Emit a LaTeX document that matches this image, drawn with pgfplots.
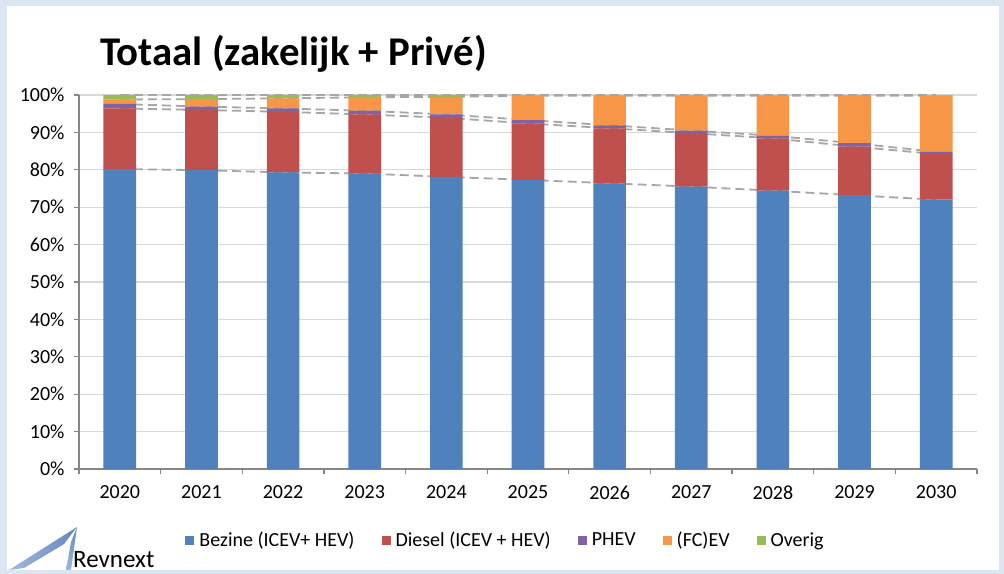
\documentclass[border=0pt]{standalone}
\usepackage{pgfplots}
\usepackage{pgfplotstable}
\pgfplotsset{compat=1.18}
\usepackage{fontspec}
\setmainfont{Carlito}
\definecolor{cBlue}{HTML}{4F81BD}
\definecolor{cRed}{HTML}{C0504D}
\definecolor{cPurple}{HTML}{8064A2}
\definecolor{cOrange}{HTML}{F79646}
\definecolor{cGreen}{HTML}{9BBB59}
\definecolor{frameblue}{RGB}{220,230,242}
\definecolor{axgray}{HTML}{868686}
\definecolor{gridgray}{HTML}{D9D9D9}
\definecolor{serline}{HTML}{A6A6A6}
\definecolor{logoblue}{RGB}{100,135,190}
\definecolor{logolight}{RGB}{160,185,220}

\pgfplotstableread{
x B D P E O
0 80.2 16.2 1.2 1.2 1.2
1 79.9 16.1 0.9 2.0 1.1
2 79.3 16.2 0.9 2.7 0.9
3 79.0 15.8 1.0 3.6 0.6
4 78.1 15.8 0.9 4.7 0.5
5 77.3 15.1 0.9 6.5 0.2
6 76.4 14.7 0.8 7.9 0.2
7 75.5 14.3 0.7 9.3 0.2
8 74.4 14.0 0.7 10.7 0.2
9 73.2 13.0 0.9 12.7 0.2
10 72.0 12.2 0.6 15.0 0.2
}\data

\begin{document}
\begin{tikzpicture}
% background frame
\fill[frameblue] (0bp,0bp) rectangle (1004bp,574bp);
\fill[white] (7bp,4bp) rectangle (999bp,568bp);
% title
\node[anchor=base west, font=\fontsize{40.8bp}{44bp}\selectfont\bfseries, inner sep=0pt] at (100bp,508bp) {Totaal (zakelijk + Privé)};
% logo
\shade[left color=logolight, right color=logoblue] (9bp,4bp) -- (77bp,47bp) -- (64bp,30bp) -- (24bp,6bp) -- cycle;
\shade[top color=logoblue, bottom color=logolight] (77bp,47bp) -- (71bp,4bp) -- (66bp,4bp) -- (71bp,32bp) -- cycle;
\node[anchor=base west, font=\fontsize{25bp}{28bp}\selectfont, inner sep=0pt] at (73bp,7bp) {Revnext};

% axis A: grid and series lines
\begin{axis}[
  at={(79bp,105bp)}, anchor=south west,
  width=898bp, height=374bp, scale only axis,
  xmin=-0.5, xmax=10.5, ymin=0, ymax=100,
  ytick={10,20,...,100}, yticklabels={}, xtick=\empty,
  ymajorgrids, grid style={gridgray, line width=1.2bp},
  major tick length=0pt,
  axis line style={draw=none},
]
\addplot[serline, line width=1.8bp, dash pattern=on 9bp off 5bp] table[x=x, y expr=\thisrow{B}] {\data};
\addplot[serline, line width=1.8bp, dash pattern=on 9bp off 5bp] table[x=x, y expr=\thisrow{B}+\thisrow{D}] {\data};
\addplot[serline, line width=1.8bp, dash pattern=on 9bp off 5bp] table[x=x, y expr=\thisrow{B}+\thisrow{D}+\thisrow{P}] {\data};
\addplot[serline, line width=1.8bp, dash pattern=on 9bp off 5bp] table[x=x, y expr=\thisrow{B}+\thisrow{D}+\thisrow{P}+\thisrow{E}] {\data};
\addplot[serline, line width=1.8bp, dash pattern=on 9bp off 5bp] table[x=x, y expr=\thisrow{B}+\thisrow{D}+\thisrow{P}+\thisrow{E}+\thisrow{O}] {\data};
\end{axis}

% axis B: bars
\begin{axis}[
  at={(79bp,105bp)}, anchor=south west,
  width=898bp, height=374bp, scale only axis,
  ybar stacked, bar width=0.4,
  xmin=-0.5, xmax=10.5, ymin=0, ymax=100,
  axis x line*=bottom, axis y line*=left,
  axis line style={axgray, line width=1.2bp},
  tick style={axgray, line width=1.2bp},
  tick align=outside, major tick length=5bp,
  ytick={0,10,...,100},
  yticklabels={0\%,10\%,20\%,30\%,40\%,50\%,60\%,70\%,80\%,90\%,100\%},
  xtick={-0.5,0.5,...,10.5}, xticklabels={},
  extra x ticks={0,1,...,10},
  extra x tick labels={2020,2021,2022,2023,2024,2025,2026,2027,2028,2029,2030},
  extra x tick style={major tick length=0pt},
  tick label style={font=\fontsize{20bp}{22bp}\selectfont, text=black},
  xticklabel style={yshift=-13bp},
  yticklabel style={xshift=-6bp},
  legend columns=5,
  legend style={draw=none, fill=none, at={(axis description cs:0.475,-0.19)}, anchor=center,
    font=\fontsize{20bp}{22bp}\selectfont,
    /tikz/every even column/.append style={column sep=25bp}},
  legend image code/.code={\fill[#1,draw=none] (0bp,-4.5bp) rectangle (9bp,4.5bp); \path (12bp,0bp);},
  legend cell align=left,
]
\addplot[fill=cBlue, draw=none] table[x=x, y=B] {\data};
\addplot[fill=cRed, draw=none] table[x=x, y=D] {\data};
\addplot[fill=cPurple, draw=none] table[x=x, y=P] {\data};
\addplot[fill=cOrange, draw=none] table[x=x, y=E] {\data};
\addplot[fill=cGreen, draw=none] table[x=x, y=O] {\data};
\legend{Bezine (ICEV+ HEV), Diesel (ICEV + HEV), PHEV, (FC)EV, Overig}
\end{axis}
\end{tikzpicture}
\end{document}
